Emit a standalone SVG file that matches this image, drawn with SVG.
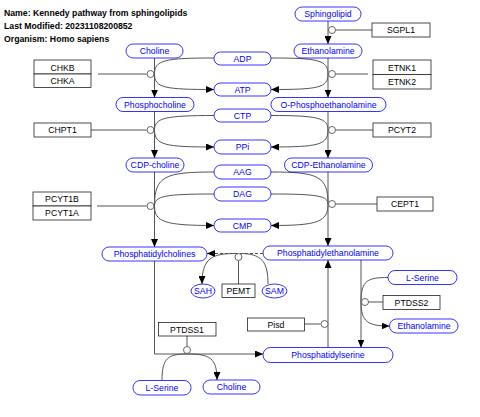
<svg xmlns="http://www.w3.org/2000/svg" width="480" height="417" viewBox="0 0 480 417">
<style>
text{font-family:"Liberation Sans",Arial,sans-serif;font-size:8.7px;text-anchor:middle}
.title{font-weight:bold;text-anchor:start}
.met rect{fill:#fff;stroke:#0000FF;stroke-width:0.8}
.met text{fill:#0000FF}
.gene rect{fill:#fff;stroke:#222;stroke-width:0.8}
.gene text{fill:#000}
.conn path{fill:none;stroke:#555;stroke-width:1}
.conn circle{fill:#fff;stroke:#555;stroke-width:0.9}
.arr{marker-end:url(#ah)}
.dash{stroke-dasharray:3,2}
</style>
<defs>
<marker id="ah" markerUnits="userSpaceOnUse" markerWidth="8" markerHeight="7" refX="8" refY="3.5" orient="auto">
<path d="M0,0 L8,3.5 L0,7 Z" fill="#000"/>
</marker>
</defs>
<rect width="480" height="417" fill="#fff"/>
<g id="title">
<text class="title" x="4" y="15.5">Name: Kennedy pathway from sphingolipids</text>
<text class="title" x="4" y="28.5">Last Modified: 20231108200852</text>
<text class="title" x="4" y="41.5">Organism: Homo sapiens</text>
</g>
<g id="connectors" class="conn">
<path class="arr" d="M328,21 V44"/>
<path d="M372,30 H335.5"/>
<path class="arr" d="M328,58 V97.5"/>
<path d="M368,74 H335.5"/>
<path class="arr" d="M154.5,58 V97.5"/>
<path d="M98,74 H146.5"/>
<path d="M214,58 C165,58 154.5,60 154.5,74"/>
<path class="arr" d="M154.5,74 C154.5,88 165,89.5 214,89.5"/>
<path d="M271,58 C318,58 328,60 328,74"/>
<path class="arr" d="M328,74 C328,88 318,89.5 271,89.5"/>
<path class="arr" d="M154.5,111.5 V158"/>
<path d="M91,130 H146.5"/>
<path d="M214,115.5 C165,115.5 154.5,118 154.5,130"/>
<path class="arr" d="M154.5,130 C154.5,145 165,147 214,147"/>
<path class="arr" d="M328,111.5 V158"/>
<path d="M373,130 H335.5"/>
<path d="M271,115.5 C318,115.5 328,118 328,130"/>
<path class="arr" d="M328,130 C328,145 318,147 271,147"/>
<path class="arr" d="M154.5,172 V247"/>
<path d="M97,206 H146.5"/>
<path d="M214,172 C165,172 154.5,176 154.5,206"/>
<path d="M214,194 C165,194 154.5,196 154.5,206"/>
<path class="arr" d="M154.5,206 C154.5,222 165,225.5 214,225.5"/>
<path class="arr" d="M328,172 V246"/>
<path d="M377,204 H335.5"/>
<path d="M271,172 C318,172 328,176 328,204"/>
<path d="M271,194 C318,194 328,196 328,204"/>
<path class="arr" d="M328,204 C328,222 318,225.5 271,225.5"/>
<path class="arr dash" d="M263,253.5 H207"/>
<path d="M238.5,284 V260.5"/>
<path d="M268,284 C268,262 262,253.5 240,253.5"/>
<path class="arr" d="M236,253.5 C212,253.5 202,258 202,284"/>
<path class="arr" d="M154.5,261 V354 H263"/>
<path d="M187,336 V346.5"/>
<path d="M162,380.5 C162,358 168,354 187,354"/>
<path class="arr" d="M187,354 C210,354 217,358 217,380"/>
<path class="arr" d="M328,347.5 V260"/>
<path d="M304.5,324 H320.5"/>
<path class="arr" d="M361,260 V347.5"/>
<path d="M383,302 H368.5"/>
<path d="M388,277.5 C368,277.5 361,280 361,302"/>
<path class="arr" d="M361,302 C361,322 368,326 389.5,326"/>
<circle cx="332" cy="30" r="3.5"/>
<circle cx="332" cy="74" r="3.5"/>
<circle cx="150.5" cy="74" r="3.5"/>
<circle cx="150.5" cy="130" r="3.5"/>
<circle cx="332" cy="130" r="3.5"/>
<circle cx="150.5" cy="206" r="3.5"/>
<circle cx="332" cy="204" r="3.5"/>
<circle cx="238.5" cy="257" r="3.5"/>
<circle cx="187" cy="350" r="3.5"/>
<circle cx="324.5" cy="324" r="3.5"/>
<circle cx="365" cy="302" r="3.5"/>
</g>
<g id="Sphingolipid" class="met"><rect x="295" y="7" width="66" height="14" rx="7"/><text x="328" y="17">Sphingolipid</text></g>
<g id="Ethanolamine" class="met"><rect x="294" y="44" width="68" height="14" rx="7"/><text x="328" y="54">Ethanolamine</text></g>
<g id="Choline" class="met"><rect x="126" y="44" width="57" height="14" rx="7"/><text x="154.5" y="54">Choline</text></g>
<g id="ADP" class="met"><rect x="214" y="52" width="57" height="13" rx="6.5"/><text x="242.5" y="61.5">ADP</text></g>
<g id="ATP" class="met"><rect x="214" y="83" width="57" height="13" rx="6.5"/><text x="242.5" y="92.5">ATP</text></g>
<g id="Phosphocholine" class="met"><rect x="116" y="97.5" width="78" height="14" rx="7"/><text x="155" y="107.5">Phosphocholine</text></g>
<g id="OPhosphoethanolamine" class="met"><rect x="271" y="97.5" width="115" height="14" rx="7"/><text x="328.5" y="107.5">O-Phosphoethanolamine</text></g>
<g id="CTP" class="met"><rect x="214" y="109" width="57" height="13" rx="6.5"/><text x="242.5" y="118.5">CTP</text></g>
<g id="PPi" class="met"><rect x="214" y="140" width="57" height="14" rx="7"/><text x="242.5" y="150">PPi</text></g>
<g id="CDPcholine" class="met"><rect x="126" y="158" width="58" height="14" rx="7"/><text x="155" y="168">CDP-choline</text></g>
<g id="CDPEthanolamine" class="met"><rect x="284.5" y="158" width="88" height="14" rx="7"/><text x="328.5" y="168">CDP-Ethanolamine</text></g>
<g id="AAG" class="met"><rect x="214" y="165" width="57" height="14" rx="7"/><text x="242.5" y="175">AAG</text></g>
<g id="DAG" class="met"><rect x="214" y="187" width="57" height="14" rx="7"/><text x="242.5" y="197">DAG</text></g>
<g id="CMP" class="met"><rect x="214" y="219" width="57" height="13" rx="6.5"/><text x="242.5" y="228.5">CMP</text></g>
<g id="Phosphatidylcholines" class="met"><rect x="102" y="247" width="105" height="14" rx="7"/><text x="154.5" y="257">Phosphatidylcholines</text></g>
<g id="Phosphatidylethanolamine" class="met"><rect x="263" y="246" width="130" height="14" rx="7"/><text x="328" y="256">Phosphatidylethanolamine</text></g>
<g id="SAH" class="met"><rect x="191" y="284" width="24" height="14" rx="12" ry="7"/><text x="203" y="294">SAH</text></g>
<g id="SAM" class="met"><rect x="262" y="284" width="25" height="14" rx="12.5" ry="7"/><text x="274.5" y="294">SAM</text></g>
<g id="LSerine1" class="met"><rect x="388" y="270.5" width="69" height="14" rx="7"/><text x="422.5" y="280.5">L-Serine</text></g>
<g id="Ethanolamine2" class="met"><rect x="389.5" y="319" width="68.5" height="14" rx="7"/><text x="424" y="329">Ethanolamine</text></g>
<g id="Phosphatidylserine" class="met"><rect x="263" y="347.5" width="130" height="15" rx="7.5"/><text x="328" y="358">Phosphatidylserine</text></g>
<g id="LSerine2" class="met"><rect x="133" y="380.5" width="58" height="14.5" rx="7"/><text x="162" y="390.5">L-Serine</text></g>
<g id="Choline2" class="met"><rect x="203" y="380" width="57" height="14" rx="7"/><text x="231.5" y="390">Choline</text></g>
<g id="SGPL1" class="gene"><rect x="372" y="23" width="58" height="14"/><text x="401" y="33">SGPL1</text></g>
<g id="CHKB" class="gene"><rect x="34" y="60" width="57" height="14"/><text x="62.5" y="70.5">CHKB</text></g>
<g id="CHKA" class="gene"><rect x="34" y="74" width="57" height="13.5"/><text x="62.5" y="84">CHKA</text></g>
<g id="ETNK1" class="gene"><rect x="373" y="60" width="58" height="14.5"/><text x="402" y="70.5">ETNK1</text></g>
<g id="ETNK2" class="gene"><rect x="373" y="74.5" width="58" height="14.5"/><text x="402" y="85">ETNK2</text></g>
<g id="CHPT1" class="gene"><rect x="34" y="123" width="57" height="14"/><text x="62.5" y="133">CHPT1</text></g>
<g id="PCYT2" class="gene"><rect x="373" y="123" width="58" height="14"/><text x="402" y="133">PCYT2</text></g>
<g id="PCYT1B" class="gene"><rect x="33" y="192" width="58" height="14"/><text x="62" y="202">PCYT1B</text></g>
<g id="PCYT1A" class="gene"><rect x="33" y="206" width="58" height="14"/><text x="62" y="216">PCYT1A</text></g>
<g id="CEPT1" class="gene"><rect x="377" y="197" width="56" height="14"/><text x="405" y="207">CEPT1</text></g>
<g id="PEMT" class="gene"><rect x="222" y="284" width="33" height="13.5"/><text x="238.5" y="294">PEMT</text></g>
<g id="Pisd" class="gene"><rect x="247.5" y="318" width="57" height="13"/><text x="276" y="327.5">Pisd</text></g>
<g id="PTDSS1" class="gene"><rect x="158.5" y="322.5" width="57.5" height="13.5"/><text x="187" y="332.5">PTDSS1</text></g>
<g id="PTDSS2" class="gene"><rect x="383" y="295.5" width="57" height="14"/><text x="411.5" y="305.5">PTDSS2</text></g>
</svg>
